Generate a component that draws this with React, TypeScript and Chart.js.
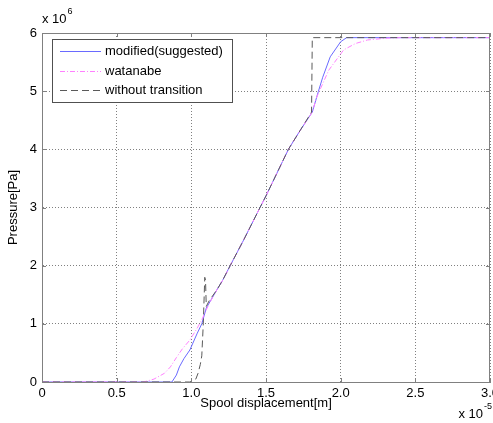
import React, { useEffect, useRef } from "react";
import { Chart, registerables } from "chart.js";

Chart.register(...registerables);

const FONT = "'Liberation Sans', Arial, Helvetica, sans-serif";

// x in units of 1e-5 m, y in units of 1e6 Pa
const modifiedX = [0, 0.87, 0.9, 0.92, 0.95, 0.99, 1.04, 1.07, 1.1, 1.17, 1.21, 1.26, 1.35, 1.46, 1.5, 1.65, 1.73, 1.81, 1.85, 1.88, 1.93, 2.0, 2.04, 3.0];
const modifiedY = [0, 0, 0.12, 0.26, 0.4, 0.55, 0.84, 1.0, 1.27, 1.58, 1.75, 2.0, 2.44, 3.0, 3.2, 4.0, 4.33, 4.64, 4.99, 5.24, 5.59, 5.85, 5.92, 5.92];

const watanabeX = [0, 0.68, 0.75, 0.82, 0.86, 0.9, 0.94, 0.99, 1.04, 1.07, 1.12, 1.17, 1.21, 1.26, 1.35, 1.46, 1.5, 1.65, 1.73, 1.81, 1.84, 1.92, 2.02, 2.1, 2.18, 2.3, 2.4, 3.0];
const watanabeY = [0, 0, 0.05, 0.15, 0.26, 0.42, 0.57, 0.72, 0.93, 1.07, 1.35, 1.58, 1.75, 2.0, 2.44, 3.0, 3.2, 4.0, 4.33, 4.64, 4.9, 5.36, 5.71, 5.82, 5.88, 5.91, 5.92, 5.92];

const withoutX = [0, 0.99, 1.03, 1.045, 1.06, 1.07, 1.08, 1.09, 1.095, 1.1, 1.12, 1.17, 1.21, 1.26, 1.35, 1.46, 1.5, 1.65, 1.73, 1.805, 1.81, 3.0];
const withoutY = [0, 0, 0.05, 0.15, 0.3, 0.45, 1.0, 1.8, 1.75, 1.3, 1.4, 1.58, 1.75, 2.0, 2.44, 3.0, 3.2, 4.0, 4.33, 4.64, 5.92, 5.92];

const seriesNames = ["modified(suggested)", "watanabe", "without transition"];
const seriesColors = ["#6a6aff", "#ff80ff", "#5a5a5a"];
const seriesDashes: number[][] = [[], [5, 2, 1, 2], [7, 4]];
const xTickStep = 0.5;
const yTickStep = 1;
const xRange = [0, 3];
const yRange = [0, 6];
const xLabel = "Spool displacement[m]";
const yLabel = "Pressure[Pa]";
const xExponent = "-5";
const yExponent = "6";

const zip = (xs: number[], ys: number[]) => xs.map((x, i) => ({ x, y: ys[i] }));

const BOX = "#808080";
const GRID = "#808080";

const decorPlugin = {
  id: "decor",
  afterDatasetsDraw(chart: any) {
    const { ctx, chartArea: a, scales } = chart;
    const xs = scales.x;
    const ys = scales.y;
    ctx.save();
    ctx.strokeStyle = BOX;
    ctx.lineWidth = 1;
    ctx.setLineDash([]);
    ctx.beginPath();
    ctx.moveTo(a.left, a.top + 0.5);
    ctx.lineTo(a.right, a.top + 0.5);
    ctx.moveTo(a.right - 0.5, a.top);
    ctx.lineTo(a.right - 0.5, a.bottom);
    ctx.stroke();
    ctx.beginPath();
    xs.ticks.forEach((t: any) => {
      const px = Math.round(xs.getPixelForValue(t.value)) + 0.5;
      ctx.moveTo(px, a.bottom);
      ctx.lineTo(px, a.bottom - 4);
      ctx.moveTo(px, a.top);
      ctx.lineTo(px, a.top + 4);
    });
    ys.ticks.forEach((t: any) => {
      const py = Math.round(ys.getPixelForValue(t.value)) + 0.5;
      ctx.moveTo(a.left, py);
      ctx.lineTo(a.left + 4, py);
      ctx.moveTo(a.right, py);
      ctx.lineTo(a.right - 4, py);
    });
    ctx.stroke();
    ctx.restore();
  },
  afterDraw(chart: any) {
    const { ctx, chartArea: a } = chart;
    ctx.save();
    ctx.fillStyle = "#000";
    ctx.font = `13px ${FONT}`;
    ctx.textBaseline = "middle";
    ctx.textAlign = "center";
    ctx.fillText(xLabel, (a.left + a.right) / 2, a.bottom + 21);
    ctx.save();
    ctx.translate(13, (a.top + a.bottom) / 2);
    ctx.rotate(-Math.PI / 2);
    ctx.fillText(yLabel, 0, 0);
    ctx.restore();
    ctx.textAlign = "left";
    ctx.fillText("x 10", a.left, a.top - 14);
    const w1 = ctx.measureText("x 10").width;
    ctx.font = `9px ${FONT}`;
    ctx.fillText(yExponent, a.left + w1 + 1, a.top - 21);
    const w2 = ctx.measureText(xExponent).width;
    ctx.font = `13px ${FONT}`;
    const w3 = ctx.measureText("x 10").width;
    const xe = a.right + 1 - w2 - w3;
    ctx.fillText("x 10", xe, a.bottom + 32);
    ctx.font = `9px ${FONT}`;
    ctx.fillText(xExponent, xe + w3 + 1, a.bottom + 25);

    // legend
    const lx = a.left + 10;
    const ly = a.top + 6;
    const lw = 180;
    const lh = 63;
    ctx.fillStyle = "#fff";
    ctx.fillRect(lx, ly, lw, lh);
    ctx.strokeStyle = "#505050";
    ctx.lineWidth = 1;
    ctx.setLineDash([]);
    ctx.strokeRect(lx + 0.5, ly + 0.5, lw, lh);
    const rows = [ly + 12, ly + 32, ly + 51];
    ctx.font = `13px ${FONT}`;
    ctx.textAlign = "left";
    ctx.textBaseline = "middle";
    seriesNames.forEach((name, i) => {
      ctx.strokeStyle = seriesColors[i];
      ctx.setLineDash(seriesDashes[i]);
      ctx.beginPath();
      ctx.moveTo(lx + 8, rows[i] + 0.5);
      ctx.lineTo(lx + 49, rows[i] + 0.5);
      ctx.stroke();
      ctx.setLineDash([]);
      ctx.fillStyle = "#000";
      ctx.fillText(name, lx + 53, rows[i]);
    });
    ctx.restore();
  },
};

export default function App() {
  const ref = useRef<HTMLCanvasElement | null>(null);
  useEffect(() => {
    if (!ref.current) return;
    const xsets = [modifiedX, watanabeX, withoutX];
    const ysets = [modifiedY, watanabeY, withoutY];
    const chart = new Chart(ref.current, {
      type: "line",
      data: {
        datasets: seriesNames.map((name, i) => ({
          label: name,
          data: zip(xsets[i], ysets[i]),
          borderColor: seriesColors[i],
          borderWidth: 1,
          borderDash: seriesDashes[i],
          pointRadius: 0,
          tension: 0,
          fill: false,
          order: 2 - i,
        })),
      },
      options: {
        animation: false,
        responsive: false,
        devicePixelRatio: 1,
        layout: { padding: { left: 0, right: 3, top: 33, bottom: 0 } },
        plugins: { legend: { display: false }, tooltip: { enabled: false } },
        scales: {
          x: {
            type: "linear",
            min: xRange[0],
            max: xRange[1],
            ticks: {
              stepSize: xTickStep,
              autoSkip: false,
              maxRotation: 0,
              padding: 4,
              color: "#000",
              font: { family: FONT, size: 13 },
            },
            grid: { color: GRID, lineWidth: 1, drawTicks: false },
            border: { display: true, color: BOX, width: 1, dash: [1, 2] },
            afterFit: (s: any) => {
              s.height = 41;
              s.paddingLeft = 0;
              s.paddingRight = 0;
            },
          },
          y: {
            type: "linear",
            min: yRange[0],
            max: yRange[1],
            ticks: {
              stepSize: yTickStep,
              autoSkip: false,
              padding: 5,
              color: "#000",
              font: { family: FONT, size: 13 },
            },
            grid: { color: GRID, lineWidth: 1, drawTicks: false },
            border: { display: true, color: BOX, width: 1, dash: [1, 2] },
            afterFit: (s: any) => {
              s.width = 42;
              s.paddingTop = 0;
              s.paddingBottom = 0;
            },
          },
        },
      },
      plugins: [decorPlugin],
    });
    return () => chart.destroy();
  }, []);
  return (
    <div style={{ position: "absolute", left: 0, top: 0, width: 493, height: 423, background: "#fff" }}>
      <canvas ref={ref} width={493} height={423} style={{ display: "block" }} />
    </div>
  );
}
